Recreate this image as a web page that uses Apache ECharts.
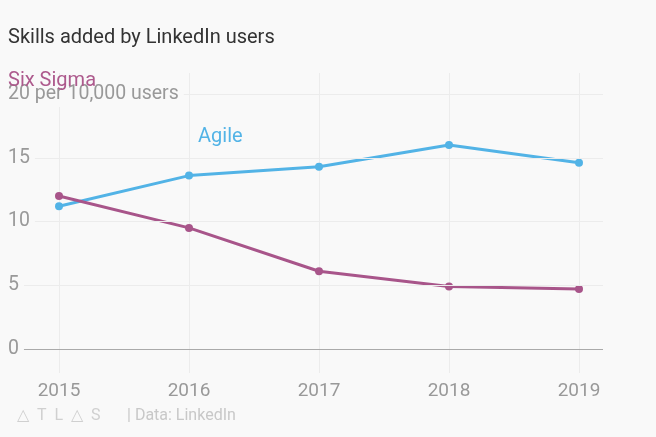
<!DOCTYPE html>
<html><head><meta charset="utf-8">
<script src="https://cdn.jsdelivr.net/npm/echarts@6/dist/echarts.min.js"></script>
<style>html,body{margin:0;padding:0;background:#f9f9f9}#c{width:656px;height:437px}</style>
</head><body><div id="c"></div>
<script>
const years = ['2015','2016','2017','2018','2019'];
const agile = [11.2, 13.6, 14.3, 16.0, 14.6];
const sixSigma = [12.0, 9.5, 6.1, 4.9, 4.7];
const yTicks = [0, 5, 10, 15, 20];
const yUnit = 'per 10,000 users';

const FONT = 'Roboto, "Noto Sans", sans-serif';
const chart = echarts.init(document.getElementById('c'), null, {renderer: 'canvas'});
chart.setOption({
  backgroundColor: '#f9f9f9',
  animation: false,
  title: [
    {text: 'Skills added by LinkedIn users', left: 3, top: 23,
     textStyle: {fontFamily: FONT, fontSize: 20, fontWeight: 'normal', color: '#333'}},
    {text: 'Six Sigma', left: 3, top: 66, z: 10,
     textStyle: {fontFamily: FONT, fontSize: 20, fontWeight: 'normal', color: '#ad5a8d'}},
    {text: 'Agile', left: 193, top: 122,
     textStyle: {fontFamily: FONT, fontSize: 20, fontWeight: 'normal', color: '#52b3e6'}},
    {text: '△  T  L  △  S', left: 12, top: 403,
     textStyle: {fontFamily: FONT, fontSize: 16, fontWeight: 'normal', color: '#d0d0d0'}},
    {text: '| Data: LinkedIn', left: 122, top: 403,
     textStyle: {fontFamily: FONT, fontSize: 16, fontWeight: 'normal', color: '#c8c8c8'}}
  ],
  grid: [
    {left: 59, right: 77, top: 73, bottom: 64},
    {left: 0, right: 53, top: 94, bottom: 88}
  ],
  xAxis: [
    {type: 'category', gridIndex: 0, data: years, boundaryGap: false,
     axisLine: {show: false}, axisTick: {show: false},
     splitLine: {show: true, lineStyle: {color: '#ececec', width: 1}},
     axisLabel: {margin: 9, fontFamily: FONT, fontSize: 19, color: '#999'}},
    {type: 'value', gridIndex: 1, show: false, min: 0, max: 1}
  ],
  yAxis: [
    {type: 'value', gridIndex: 0, show: false, min: -24/12.75, max: 276/12.75,
     splitLine: {show: false}},
    {type: 'value', gridIndex: 1, min: yTicks[0], max: yTicks[yTicks.length-1], interval: 5, z: 5,
     axisLine: {show: false}, axisTick: {show: false},
     splitLine: {show: true, lineStyle: {color: ['#aaaaaa','#ececec','#ececec','#ececec','#ececec'], width: 1}},
     axisLabel: {inside: true, margin: 0, fontFamily: FONT, fontSize: 19.5, color: '#999',
       backgroundColor: '#f9f9f9', padding: [3, 5, 3, 5],
       formatter: v => v === 20 ? v + ' ' + yUnit : String(v)}}
  ],
  series: [
    {name: 'Agile', type: 'line', xAxisIndex: 0, yAxisIndex: 0, data: agile,
     color: '#52b3e6', lineStyle: {width: 3}, symbol: 'circle', symbolSize: 8, z: 3},
    {name: 'Six Sigma', type: 'line', xAxisIndex: 0, yAxisIndex: 0, data: sixSigma,
     color: '#a8558a', lineStyle: {width: 3}, symbol: 'circle', symbolSize: 8, z: 4}
  ]
});
</script></body></html>
